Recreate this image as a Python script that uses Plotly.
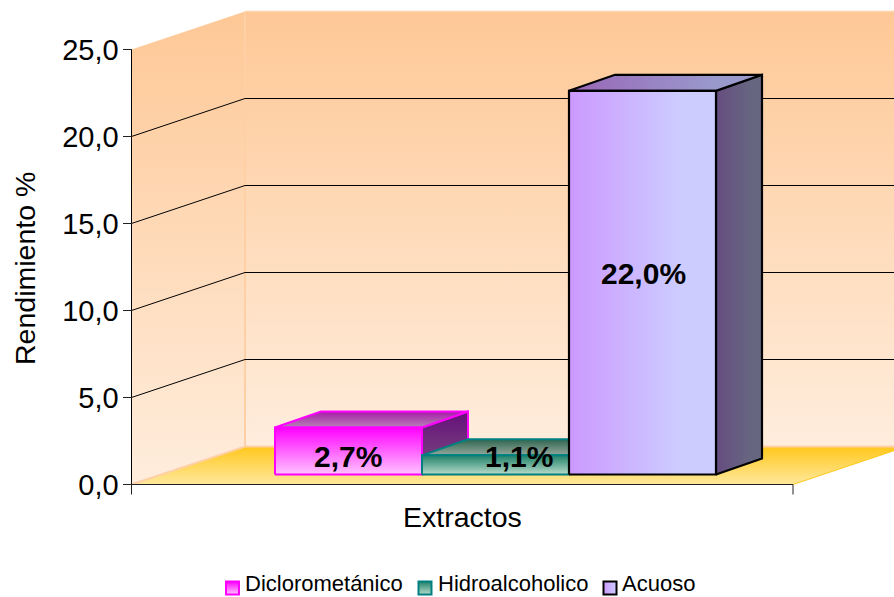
import plotly.graph_objects as go

series = ["Diclorometánico", "Hidroalcoholico", "Acuoso"]
values = [2.7, 1.1, 22.05]
value_labels = ["2,7%", "1,1%", "22,0%"]
tick_vals = [0, 5, 10, 15, 20, 25]
tick_text = ["0,0", "5,0", "10,0", "15,0", "20,0", "25,0"]
y_title = "Rendimiento %"
x_title = "Extractos"

W, H = 894, 597
FONT = "Liberation Sans"
# scales (px per data unit)
PX_Y = 17.4
PX_X = 147.0          # one bar slot
X0_PX, Y0_PX = 275, 484.5   # pixel of slot 0 / of value 0

def sx(px): return px / PX_X
def sy(px): return px / PX_Y

FLOOR_L = sx(131.5 - X0_PX)
FLOOR_R = sx(793 - X0_PX)
BACK_DX, BACK_DY = sx(113.5), sy(38)
BAR_BASE = sy(10)
BAR_DX, BAR_DY = sx(46), sy(16)
YMAX = tick_vals[-1]

faces = [
    dict(front=("vertical", "#FFC4FF", "#FF00FF"), top=("vertical", "#B585B5", "#A81CA8"),
         side=("vertical", "#7B4F80", "#66107A"), line="#FF00FF", lw=2),
    dict(front=("vertical", "#B8DCCB", "#1F8068"), top=("vertical", "#93A89C", "#2F6650"),
         side=("vertical", "#5F7A6C", "#2F6650"), line="#008080", lw=2),
    dict(front=("horizontal", "#CC99FF", "#CCCCFF"), top=("horizontal", "#9966B8", "#9999CC"),
         side=("horizontal", "#664D80", "#666680"), line="#000000", lw=2.2),
]
label_pos = [(sx(348 - X0_PX), sy(Y0_PX - 456)), (sx(519 - X0_PX), sy(Y0_PX - 456)), (sx(643 - X0_PX), sy(Y0_PX - 273))]
legend_px = [(232.5, 245), (425, 438), (610, 622)]

fig = go.Figure()

def poly(xs, ys, grad, line="rgba(0,0,0,0)", lw=0):
    kind, c0, c1 = grad
    scale = [[0, c0], [0.75, c1], [1, c1]] if kind == "horizontal" else [[0, c0], [1, c1]]
    fig.add_trace(go.Scatter(
        x=list(xs) + [xs[0]], y=list(ys) + [ys[0]], mode="lines", fill="toself",
        line=dict(color=line, width=lw),
        fillgradient=dict(type=kind, colorscale=scale),
        hoverinfo="skip", showlegend=False))

def seg(xs, ys, color, w):
    fig.add_trace(go.Scatter(x=xs, y=ys, mode="lines", line=dict(color=color, width=w),
                             hoverinfo="skip", showlegend=False))

# walls and floor
WALL = ("vertical", "#FFEDDD", "#FEC896")
poly([FLOOR_L + BACK_DX, FLOOR_R + BACK_DX, FLOOR_R + BACK_DX, FLOOR_L + BACK_DX],
     [BACK_DY, BACK_DY, YMAX + BACK_DY, YMAX + BACK_DY], WALL)
poly([FLOOR_L, FLOOR_L + BACK_DX, FLOOR_L + BACK_DX, FLOOR_L],
     [0, BACK_DY, YMAX + BACK_DY, YMAX], WALL)
poly([FLOOR_L, FLOOR_R, FLOOR_R + BACK_DX, FLOOR_L + BACK_DX],
     [0, 0, BACK_DY, BACK_DY], ("vertical", "#FFE89C", "#FFC81C"))
seg([FLOOR_L, FLOOR_L + BACK_DX, FLOOR_R + BACK_DX], [0, BACK_DY, BACK_DY], "#FFCFA6", 2)
seg([FLOOR_L + BACK_DX] * 2, [BACK_DY, YMAX + BACK_DY], "#FFCFA6", 2)
seg([FLOOR_R, FLOOR_R + BACK_DX], [0, BACK_DY], "#FFC81C", 1)
seg([FLOOR_L + BACK_DX, FLOOR_R + BACK_DX], [YMAX + BACK_DY] * 2, "#FFD3AA", 1.5)

# gridlines
for v in tick_vals[1:-1]:
    seg([FLOOR_L, FLOOR_L + BACK_DX], [v, v + BACK_DY], "#000000", 1)
    seg([FLOOR_L + BACK_DX, FLOOR_R + BACK_DX], [v + BACK_DY] * 2, "#000000", 1)

# axes
seg([FLOOR_L, FLOOR_L], [0, YMAX], "#000000", 1)
seg([FLOOR_L, FLOOR_L, FLOOR_L, FLOOR_R, FLOOR_R], [-sy(10), 0, 0, 0, -sy(10)], "#222222", 1)

# bars
for i, (v, f) in enumerate(zip(values, faces)):
    x0, x1, b, t = i, i + 1, BAR_BASE, BAR_BASE + v
    poly([x1, x1 + BAR_DX, x1 + BAR_DX, x1], [b, b + BAR_DY, t + BAR_DY, t], f["side"], f["line"], f["lw"])
    poly([x0, x1, x1 + BAR_DX, x0 + BAR_DX], [t, t, t + BAR_DY, t + BAR_DY], f["top"], f["line"], f["lw"])
    poly([x0, x1, x1, x0], [b, b, t, t], f["front"], f["line"], f["lw"])

annotations = []
for (lx, ly), txt in zip(label_pos, value_labels):
    annotations.append(dict(x=lx, y=ly, xref="x", yref="y", text=f"<b>{txt}</b>", showarrow=False,
                            font=dict(family=FONT, size=30, color="#000000")))
annotations.append(dict(x=sx(462 - X0_PX), y=sy(Y0_PX - 517), xref="x", yref="y", text=x_title,
                        showarrow=False, font=dict(family=FONT, size=28.5, color="#000000")))
annotations.append(dict(x=sx(24.5 - X0_PX), y=sy(Y0_PX - 268.5), xref="x", yref="y", text=y_title, textangle=-90,
                        showarrow=False, font=dict(family=FONT, size=28.5, color="#000000")))

# legend: gradient swatches and names
for name, f, (mx, tx) in zip(series, faces, legend_px):
    k, c0, c1 = f["front"]
    fig.add_trace(go.Scatter(
        x=[sx(mx - X0_PX)], y=[sy(Y0_PX - 588)], mode="markers", hoverinfo="skip", showlegend=False,
        marker=dict(symbol="square", size=13, color=c1 if k == "vertical" else c0,
                    gradient=dict(type=k, color=c0 if k == "vertical" else c1),
                    line=dict(color=f["line"], width=2))))
    annotations.append(dict(x=sx(tx - X0_PX), y=sy(Y0_PX - 596.5), xref="x", yref="y", text=name,
                            xanchor="left", yanchor="bottom",
                            showarrow=False, font=dict(family=FONT, size=22, color="#000000"),
                            borderpad=0, xshift=-1))

fig.update_layout(
    width=W, height=H, margin=dict(l=0, r=0, t=0, b=0), paper_bgcolor="white", plot_bgcolor="white",
    showlegend=False, annotations=annotations,
    xaxis=dict(visible=False, range=[sx(-X0_PX), sx(W - X0_PX)], fixedrange=True),
    yaxis=dict(range=[sy(Y0_PX - H), sy(Y0_PX)], anchor="free", position=131.5 / W, fixedrange=True,
               tickmode="array", tickvals=tick_vals, ticktext=tick_text, ticks="outside", ticklen=9,
               tickcolor="#222222", tickwidth=1, showgrid=False, zeroline=False, showline=False,
               ticklabelstandoff=-2,
               tickfont=dict(family=FONT, size=29, color="#000000"), automargin=False),
)
fig.write_html("out.html", config=dict(displayModeBar=False),
               post_script="document.body.style.margin='0';document.body.style.overflow='hidden';")
